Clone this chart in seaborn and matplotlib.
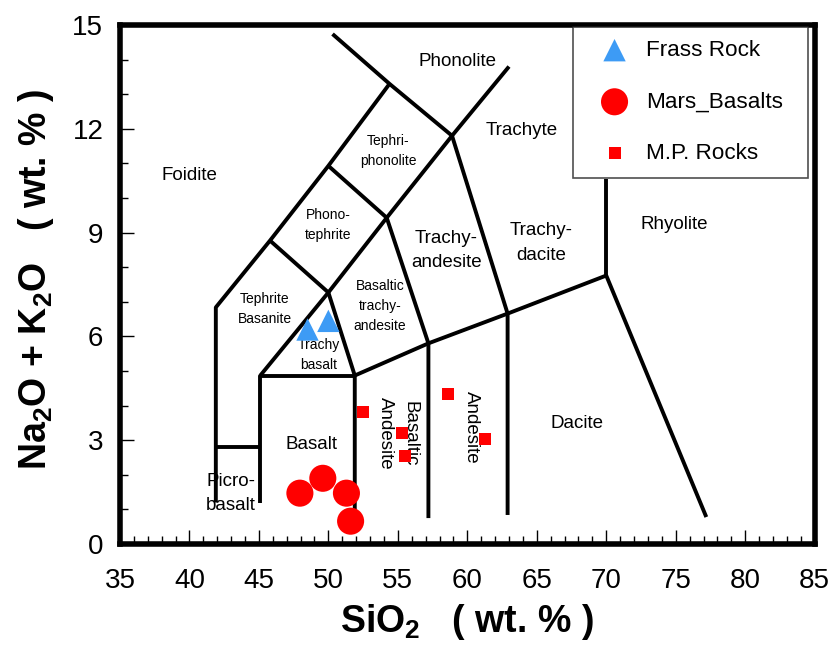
import pandas as pd
import matplotlib
matplotlib.use("Agg")
import matplotlib.pyplot as plt
import seaborn as sns

# Sample data
frass_sio2 = [48.5, 50.0]
frass_alk = [6.2, 6.45]
mars_sio2 = [47.95, 49.6, 51.3, 51.6]
mars_alk = [1.47, 1.9, 1.47, 0.66]
mp_sio2 = [52.5, 55.3, 55.5, 58.6, 61.3]
mp_alk = [3.81, 3.2, 2.54, 4.33, 3.03]

# TAS field boundaries (polylines, SiO2 / Na2O+K2O)
tas_lines = [
    [(41.9, 1.2), (41.9, 6.84), (45.8, 8.77), (50.0, 10.93), (54.4, 13.3)],
    [(50.3, 14.74), (54.4, 13.3), (58.9, 11.8)],
    [(45.1, 4.87), (50.0, 7.27), (54.2, 9.43), (58.9, 11.8), (63.0, 13.8)],
    [(45.8, 8.77), (50.0, 7.27)],
    [(50.0, 10.93), (54.2, 9.43)],
    [(45.1, 1.2), (45.1, 4.87), (51.9, 4.87)],
    [(50.0, 7.27), (51.9, 4.87), (51.9, 0.92)],
    [(51.9, 4.87), (57.2, 5.8), (62.9, 6.66), (70.0, 7.76), (77.2, 0.78)],
    [(54.2, 9.43), (57.2, 5.8), (57.2, 0.75)],
    [(58.9, 11.8), (62.9, 6.66), (62.9, 0.84)],
    [(70.0, 7.76), (70.0, 10.56)],
    [(41.9, 2.8), (45.1, 2.8)],
]

# field names: (text, x, y, size, rotation)
fields = [
    ("Phonolite", 59.3, 13.96, 13.5, 0),
    ("Trachyte", 63.9, 11.94, 13.5, 0),
    ("Tephri-\nphonolite", 54.3, 11.35, 10, 0),
    ("Foidite", 40.0, 10.64, 13.5, 0),
    ("Phono-\ntephrite", 50.0, 9.22, 10, 0),
    ("Trachy-\nandesite", 58.5, 8.48, 13.5, 0),
    ("Trachy-\ndacite", 65.3, 8.7, 13.5, 0),
    ("Rhyolite", 74.9, 9.23, 13.5, 0),
    ("Tephrite\nBasanite", 45.4, 6.8, 10, 0),
    ("Basaltic\ntrachy-\nandesite", 53.7, 6.89, 10, 0),
    ("Trachy\nbasalt", 49.3, 5.45, 10, 0),
    ("Basalt", 48.8, 2.88, 13.5, 0),
    ("Picro-\nbasalt", 43.0, 1.47, 13.5, 0),
    ("Basaltic\nAndesite", 55.0, 3.2, 13.5, -90),
    ("Andesite", 60.3, 3.37, 13.5, -90),
    ("Dacite", 67.9, 3.49, 13.5, 0),
]

frass = pd.DataFrame({"SiO2": frass_sio2, "alk": frass_alk})
mars = pd.DataFrame({"SiO2": mars_sio2, "alk": mars_alk})
mp = pd.DataFrame({"SiO2": mp_sio2, "alk": mp_alk})

sns.set_style("white")
plt.rcParams["font.family"] = ["Liberation Sans", "DejaVu Sans"]
plt.rcParams["mathtext.fontset"] = "custom"
plt.rcParams["mathtext.rm"] = "Liberation Sans:bold"
plt.rcParams["mathtext.bf"] = "Liberation Sans:bold"
plt.rcParams["mathtext.default"] = "bf"
plt.rcParams["text.color"] = "black"
plt.rcParams["axes.labelcolor"] = "black"

fig = plt.figure(figsize=(8.33, 6.52), dpi=100)
ax = fig.add_axes([0.144, 0.1656, 0.834, 0.796])

for line in tas_lines:
    xs, ys = zip(*line)
    ax.plot(xs, ys, color="black", lw=2.8, solid_capstyle="butt", zorder=2)

for txt, x, y, fs, rot in fields:
    ax.text(x, y, txt, fontsize=fs, rotation=rot, ha="center", va="center",
            linespacing=1.55, color="black", zorder=3)

sns.scatterplot(data=frass, x="SiO2", y="alk", marker="^", s=260, color="#3d9bf5",
                edgecolor="none", label="Frass Rock", ax=ax, zorder=4)
sns.scatterplot(data=mars, x="SiO2", y="alk", marker="o", s=380, color="#ff0000",
                edgecolor="none", label="Mars_Basalts", ax=ax, zorder=4)
sns.scatterplot(data=mp, x="SiO2", y="alk", marker="s", s=75, color="#ff0000",
                edgecolor="none", label="M.P. Rocks", ax=ax, zorder=4)

ax.set_xlim(35, 85)
ax.set_ylim(0, 15)
ax.set_xticks(range(35, 86, 5))
ax.set_yticks(range(0, 16, 3))
ax.set_xticks(range(35, 86, 1), minor=True)
ax.set_yticks(range(0, 16, 1), minor=True)
ax.tick_params(axis="both", which="both", direction="in", bottom=True, left=True,
               top=False, right=False, color="black", labelcolor="black")
ax.tick_params(axis="both", which="major", length=10, width=1, labelsize=20)
ax.tick_params(axis="both", which="minor", length=6, width=1)
ax.tick_params(axis="x", which="major", pad=17)
ax.tick_params(axis="y", which="major", pad=12)
for sp in ax.spines.values():
    sp.set_linewidth(4)
    sp.set_color("black")

ax.set_xlabel(r"SiO$_2$   ( wt. % )", fontsize=27, fontweight="bold", labelpad=6)
ax.set_ylabel(r"Na$_2$O + K$_2$O   ( wt. % )", fontsize=27, fontweight="bold")
ax.yaxis.set_label_coords(-0.092, 0.51)

leg = ax.legend(loc="upper left", bbox_to_anchor=(0.652, 0.5, 0.338, 0.497),
                mode="expand", borderaxespad=0, fontsize=16.2, frameon=True,
                fancybox=False, labelspacing=1.36, borderpad=0.6,
                handlelength=2.5, handletextpad=0.15, markerscale=1.0)
leg.get_frame().set_edgecolor("#222222")
leg.get_frame().set_linewidth(1.2)

fig.savefig("out.png", dpi=100)
